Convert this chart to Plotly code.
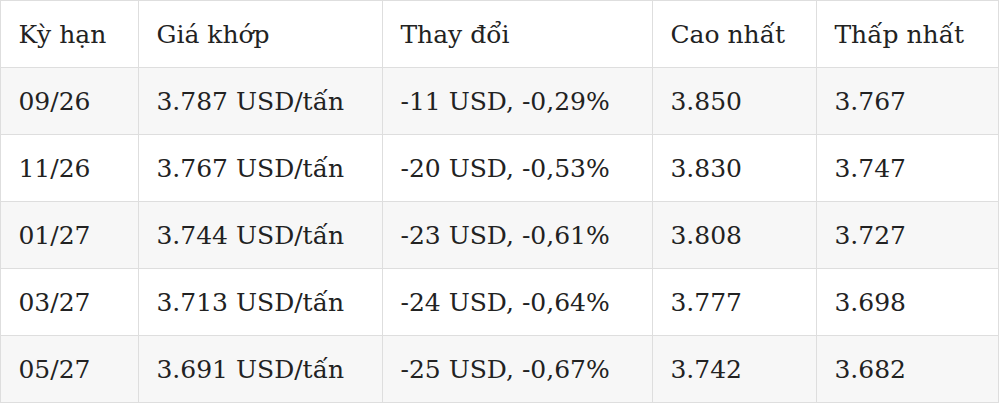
import plotly.graph_objects as go

# header and columns
headers = ["Kỳ hạn", "Giá khớp", "Thay đổi", "Cao nhất", "Thấp nhất"]
ky_han = ["09/26", "11/26", "01/27", "03/27", "05/27"]
gia_khop = ["3.787 USD/tấn", "3.767 USD/tấn", "3.744 USD/tấn", "3.713 USD/tấn", "3.691 USD/tấn"]
thay_doi = ["-11 USD, -0,29%", "-20 USD, -0,53%", "-23 USD, -0,61%", "-24 USD, -0,64%", "-25 USD, -0,67%"]
cao_nhat = ["3.850", "3.830", "3.808", "3.777", "3.742"]
thap_nhat = ["3.767", "3.747", "3.727", "3.698", "3.682"]

W, H = 1000, 404
ROW_H = 67
SHIFT = 16  # push text down so it sits mid-row
pad = "\u00a0\u200a"
cols = [ky_han, gia_khop, thay_doi, cao_nhat, thap_nhat]
n = len(ky_han)

row_fill = ["#f7f7f7" if i % 2 == 0 else "#ffffff" for i in range(n)]
fnt = dict(family="DejaVu Serif", size=25, color="#222222")
clear = "rgba(0,0,0,0)"

# grid + fills
grid = go.Table(
    columnwidth=[138, 244, 270, 164, 182],
    header=dict(values=[""] * 5, fill_color="#ffffff", line_color="#dedede",
                height=ROW_H),
    cells=dict(values=[[""] * n for _ in cols], fill_color=[row_fill] * 5,
               line_color="#dedede", height=ROW_H),
    domain=dict(x=[0, 0.998], y=[0, 1]),
)

# text layer
text = go.Table(
    columnwidth=[138, 244, 270, 164, 184],
    header=dict(values=[pad + h for h in headers], fill_color=clear,
                line_color=clear, align="left", height=ROW_H, font=fnt),
    cells=dict(values=[[pad + v for v in c] for c in cols], fill_color=clear,
               line_color=clear, align="left", height=ROW_H, font=fnt),
    domain=dict(x=[0, 1], y=[0, 1 - SHIFT / H]),
)

fig = go.Figure([grid, text])
fig.update_layout(width=W, height=H, margin=dict(l=0, r=0, t=0, b=0),
                  paper_bgcolor="#ffffff")
fig.write_html("out.html", config={"displayModeBar": False},
               post_script="document.body.style.margin='0';")
